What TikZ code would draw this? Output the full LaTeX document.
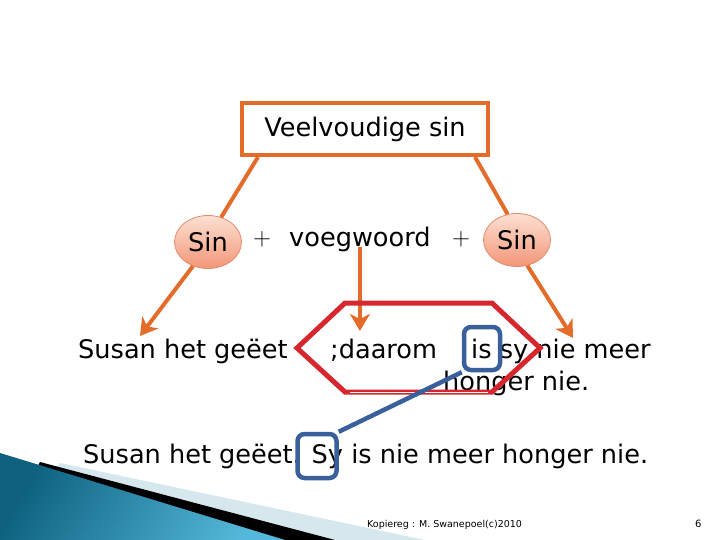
\documentclass[tikz,border=0pt]{standalone}
\usepackage{fontspec}
\setmainfont{DejaVu Sans}
\usetikzlibrary{shapes.geometric,arrows.meta}
\definecolor{orng}{RGB}{228,108,42}
\definecolor{hexred}{RGB}{214,38,46}
\definecolor{bluebox}{RGB}{58,96,156}
\definecolor{elltop}{RGB}{252,224,210}
\definecolor{ellbot}{RGB}{243,150,120}
\definecolor{ellline}{RGB}{225,140,110}
\definecolor{tealdark}{RGB}{14,98,128}
\definecolor{teallight}{RGB}{84,184,218}
\definecolor{paleblue}{RGB}{214,232,238}
\begin{document}
\begin{tikzpicture}[x=1pt,y=-1pt,
  bigfont/.style={font=\fontsize{25.6}{30}\selectfont},
  txt/.style={inner sep=0pt,anchor=base west,bigfont},
  sinell/.style={ellipse,draw=ellline,line width=0.8pt,top color=elltop,bottom color=ellbot,
     minimum width=67pt,minimum height=53pt,inner sep=0pt,bigfont},
  orline/.style={draw=orng,line width=4pt},
  orarrow/.style={draw=orng,line width=4pt,-{Stealth[length=17pt,width=20pt,inset=5pt]}},
  bluerect/.style={draw=bluebox,line width=4.5pt,rounded corners=7pt,inner sep=0pt},
]
\path[use as bounding box] (0,0) rectangle (720,540);
% decoration bottom-left
\fill[paleblue] (60,463) -- (425,540) -- (0,540) -- cycle;
\fill[black] (40,462) -- (335,540) -- (0,540) -- cycle;
\shade[left color=tealdark,right color=teallight,shading angle=60] (0,453) -- (285,540) -- (0,540) -- cycle;
% title box
\node[draw=orng,line width=4pt,minimum width=246pt,minimum height=52pt,inner sep=0pt,bigfont] (title) at (365,129) {Veelvoudige sin};
% Sin ellipses and formula
\node[sinell] (sinL) at (208,242) {Sin};
\node[sinell] (sinR) at (517,240) {Sin};
\node[inner sep=0pt,bigfont] (plus1) at (262,239) {$+$};
\node[txt] (voeg) at (289,247) {voegwoord};
\node[inner sep=0pt,bigfont] (plus2) at (461,239) {$+$};
% texts
\node[txt] (t1) at (78,358) {Susan het geëet};
\node[txt] (t2) at (330,358) {;daarom};
\node[txt] (t3) at (471,358) {is sy nie meer};
\node[txt] (t4) at (443,390) {honger nie.};
\node[txt] (t5) at (83,463) {Susan het geëet. Sy is nie meer honger nie.};
\node[inner sep=0pt,anchor=base west,font=\fontsize{9.5}{11}\selectfont] (foot) at (367,527) {Kopiereg : M. Swanepoel(c)2010};
\node[inner sep=0pt,anchor=base west,font=\fontsize{10}{12}\selectfont] (pnum) at (695,527) {6};
% connectors
\draw[orline] ([xshift=18pt]title.south west) -- (sinL.62);
\draw[orline] ([xshift=-15pt]title.south east) -- (sinR.110);
\coordinate (tipL) at (140,336);
\coordinate (tipM) at (362,331);
\coordinate (tipR) at (573,338);
\draw[orarrow] (sinL.238) -- (tipL);
\draw[orarrow] ([yshift=6pt]voeg.south) -- (voeg.south |- tipM);
\draw[orarrow] (sinR.292) -- (tipR);
% red hexagon
\draw[hexred,line width=5pt,line join=miter] (297,348) -- (345,303) -- (492,303) -- (540,348) -- (492,392) -- (345,392) -- cycle;
\draw[white,line width=1pt] (350,392) -- (488,392);
% blue boxes
\node[bluerect,minimum width=36pt,minimum height=43pt] (isbox) at (482,348.5) {};
\node[bluerect,minimum width=39pt,minimum height=44pt] (sybox) at (317,456) {};
\draw[bluebox,line width=4.5pt] (isbox.south west) -- (sybox.north east);
\end{tikzpicture}
\end{document}
